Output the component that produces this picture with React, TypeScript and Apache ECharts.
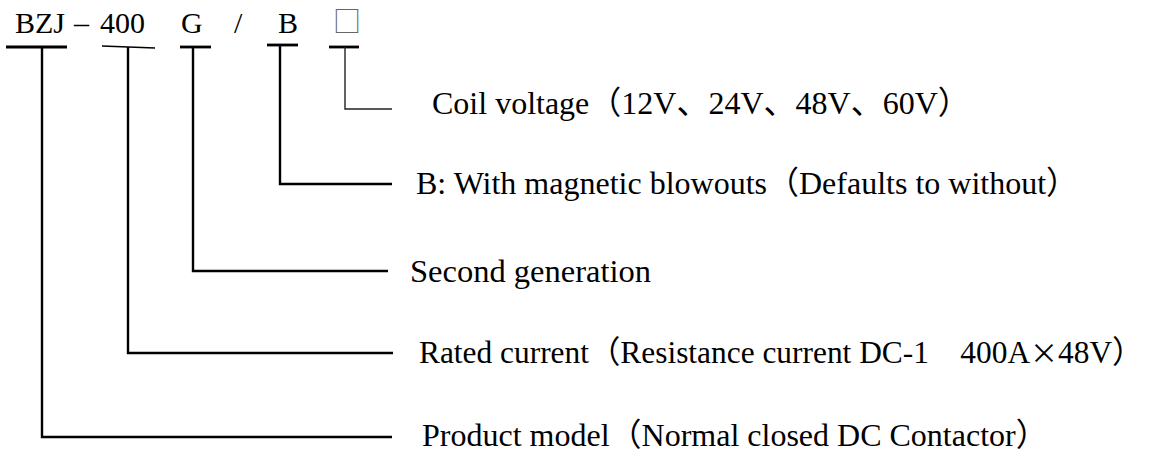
import React, { useEffect, useRef } from "react";
import * as echarts from "echarts";

// Model code segments (top row)
const codeParts = ["BZJ", "–", "400", "G", "/", "B", "□"];
// Descriptions, top to bottom
const descriptions = [
  "Coil voltage（12V、24V、48V、60V）",
  "B: With magnetic blowouts（Defaults to without）",
  "Second generation",
  "Rated current（Resistance current DC-1　400A{x|×}48V）",
  "Product model（Normal closed DC Contactor）",
];

// layout (pixels)
const codeX = [15, 74, 100, 181, 234, 278, 333];
const CODE_Y = 22;
// brackets: [barX1, barY1, barX2, barY2, stemX, elbowY, endX, descIndex, textX, textY, barWidth, fontSize]
const brackets: number[][] = [
  [6, 47, 67, 47, 42, 437, 392, 4, 422, 435, 2.8, 32],
  [102, 46, 155, 48, 128, 353, 393, 3, 419, 352, 1.6, 31.4],
  [180, 47, 211, 47, 193, 271, 388, 2, 410, 271, 2.8, 32.5],
  [267, 45, 298, 45, 280, 184, 392, 1, 416, 183, 2.8, 32],
  [329, 47, 359, 47, 345, 109, 392, 0, 432, 103, 2.8, 32],
];

const FONT_FAMILY = '"Liberation Serif", "Times New Roman", "Noto Sans CJK SC", serif';
const CJK_FAMILY = '"Noto Sans CJK SC", sans-serif';

export default function App() {
  const ref = useRef<HTMLDivElement>(null);
  useEffect(() => {
    document.body.style.margin = "0";
    const chart = echarts.init(ref.current!, null, { renderer: "svg" });
    const elements: any[] = [];
    codeParts.forEach((t, i) => {
      const isBox = t === "□";
      elements.push({
        type: "text",
        x: codeX[i],
        y: isBox ? CODE_Y - 2 : CODE_Y,
        style: {
          text: t,
          fill: isBox ? "#666" : "#000",
          fontFamily: isBox ? CJK_FAMILY : FONT_FAMILY,
          fontSize: isBox ? 28 : 30,
          align: "left",
          verticalAlign: "middle",
        },
      });
    });
    brackets.forEach((b) => {
      const [x1, y1, x2, y2, sx, ey, ex, di, tx, ty, w, fs] = b;
      const thin = di === 0;
      elements.push({
        type: "line",
        shape: { x1, y1, x2, y2 },
        style: { stroke: "#000", lineWidth: w },
      });
      elements.push({
        type: "polyline",
        shape: {
          points: [
            [sx, (y1 + y2) / 2],
            [sx, ey],
            [ex, ey],
          ],
        },
        style: {
          stroke: thin ? "#222" : "#000",
          lineWidth: thin ? 1.4 : 2.4,
          fill: null,
          lineJoin: "miter",
        },
      });
      elements.push({
        type: "text",
        x: tx,
        y: ty,
        style: {
          text: descriptions[di],
          fill: "#000",
          fontFamily: FONT_FAMILY,
          fontSize: fs,
          align: "left",
          verticalAlign: "middle",
          rich: {
            x: { fontFamily: CJK_FAMILY, fontSize: 28, fill: "#000" },
          },
        },
      });
    });
    chart.setOption({
      animation: false,
      backgroundColor: "#fff",
      graphic: { elements },
    });
    return () => chart.dispose();
  }, []);
  return <div ref={ref} style={{ width: 1151, height: 457 }} />;
}
